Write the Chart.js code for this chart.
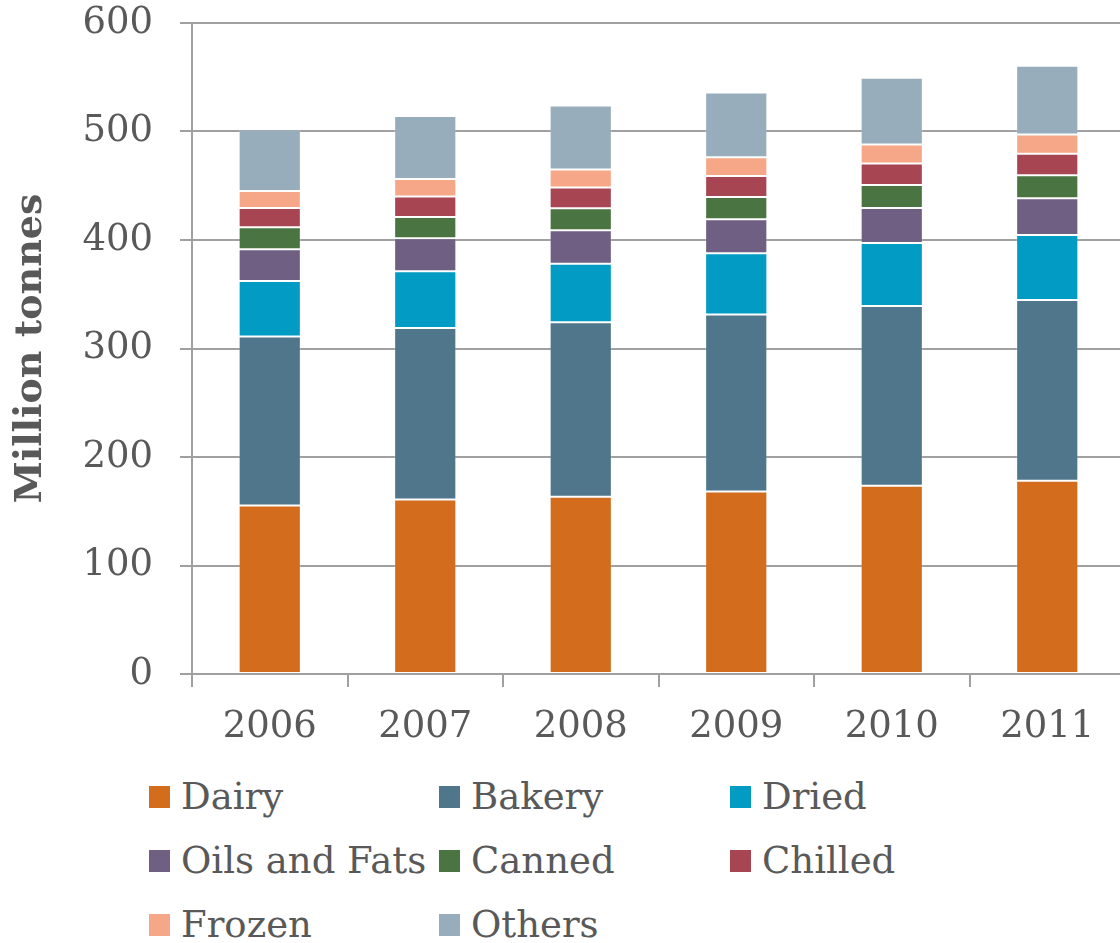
<!DOCTYPE html>
<html>
<head>
<meta charset="utf-8">
<title>Packaged food volumes by category</title>
<script src="https://cdn.jsdelivr.net/npm/chart.js@4.4.1/dist/chart.umd.min.js"></script>
<style>
  html, body { margin: 0; padding: 0; background: #fff; overflow: hidden; width: 1120px; height: 943px; }
  #wrap { position: absolute; left: 0; top: 0; width: 1125px; height: 770px; }
  #legend { position: absolute; left: 0; top: 770px; width: 1120px; height: 173px;
            font-family: "DejaVu Serif", serif; font-size: 37px; color: #595959; }
  .item { position: absolute; display: flex; align-items: center; white-space: nowrap; height: 44px; line-height: 44px; }
  .box { width: 21px; height: 22px; margin-right: 11px; flex: none; }
</style>
</head>
<body>
<div id="wrap"><canvas id="chart" width="1125" height="770"></canvas></div>
<div id="legend"></div>
<script>
// Years on the category axis
const years = ['2006', '2007', '2008', '2009', '2010', '2011'];

// Volumes per category, million tonnes
const dairy    = [155.4, 160.9, 163.4, 168.3, 173.5, 178.2];
const bakery   = [155.7, 157.9, 160.9, 163.1, 165.6, 166.4];
const dried    = [51.0, 52.3, 53.8, 56.3, 58.1, 60.0];
const oilsFats = [29.3, 30.4, 30.8, 31.4, 32.3, 33.9];
const canned   = [20.3, 19.7, 20.3, 20.6, 21.2, 21.2];
const chilled  = [17.8, 18.8, 19.1, 19.4, 19.7, 19.9];
const frozen   = [15.7, 16.3, 16.6, 17.2, 17.6, 17.6];
const others   = [56.6, 58.1, 59.1, 59.7, 61.5, 63.4];

// Y axis ticks
const yTicks = [0, 100, 200, 300, 400, 500, 600];

const seriesNames = ['Dairy', 'Bakery', 'Dried', 'Oils and Fats', 'Canned', 'Chilled', 'Frozen', 'Others'];
const seriesData = [dairy, bakery, dried, oilsFats, canned, chilled, frozen, others];
const seriesColors = ['#D46C1E', '#50768C', '#029BC3', '#6E5F83', '#4A7542', '#A74652', '#F5A787', '#98ADBB'];

const textColor = '#595959';
const gridColor = '#A0A0A0';
const fontFamily = '"DejaVu Serif", serif';

const datasets = seriesNames.map((name, i) => ({
  label: name,
  data: seriesData[i],
  backgroundColor: seriesColors[i],
  borderColor: 'rgba(255,255,255,0.18)',
  borderWidth: 1,
  borderSkipped: false,
  barPercentage: 0.4,
  categoryPercentage: 1.0
}));

const chart = new Chart(document.getElementById('chart'), {
  type: 'bar',
  data: { labels: years, datasets },
  options: {
    responsive: false,
    animation: false,
    layout: { padding: { top: 0, right: 0, bottom: 0, left: 0 } },
    plugins: { legend: { display: false }, tooltip: { enabled: false } },
    scales: {
      x: {
        stacked: true,
        offset: true,
        afterFit: s => { s.height = 96; },
        grid: { offset: true, drawOnChartArea: false, drawTicks: true, tickLength: 13, color: gridColor, lineWidth: 2 },
        border: { display: true, color: gridColor, width: 2 },
        ticks: { color: textColor, font: { family: fontFamily, size: 37 }, padding: 18, maxRotation: 0 }
      },
      y: {
        stacked: true,
        min: 0,
        max: 600,
        afterFit: s => { s.width = 192; s.paddingTop = 23; s.paddingBottom = 0; },
        afterBuildTicks: s => { s.ticks = yTicks.map(v => ({ value: v })); },
        grid: { color: gridColor, lineWidth: 2, drawTicks: true, tickLength: 12 },
        border: { display: true, color: gridColor, width: 2 },
        ticks: { color: textColor, font: { family: fontFamily, size: 37 }, padding: 27 },
        title: {
          display: true,
          text: 'Million tonnes',
          color: textColor,
          font: { family: fontFamily, size: 38, weight: 'bold' },
          padding: { top: 8, bottom: 0 }
        }
      }
    }
  }
});

// Legend laid out in three columns from the chart's datasets
const legend = document.getElementById('legend');
const colLeft = [149, 439, 730];
const rowCenter = [27, 91, 155];
chart.data.datasets.forEach((ds, i) => {
  const item = document.createElement('div');
  item.className = 'item';
  item.style.left = colLeft[i % 3] + 'px';
  item.style.top = (rowCenter[Math.floor(i / 3)] - 22) + 'px';
  const box = document.createElement('span');
  box.className = 'box';
  box.style.background = ds.backgroundColor;
  const label = document.createElement('span');
  label.textContent = ds.label;
  item.appendChild(box);
  item.appendChild(label);
  legend.appendChild(item);
});
</script>
</body>
</html>
